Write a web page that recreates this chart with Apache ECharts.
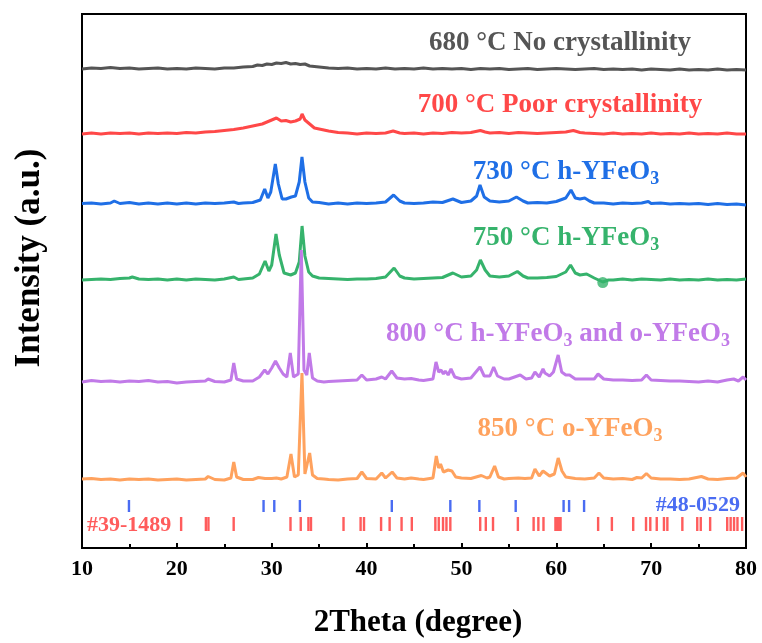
<!DOCTYPE html>
<html>
<head>
<meta charset="utf-8">
<script src="https://cdn.jsdelivr.net/npm/echarts@6/dist/echarts.min.js"></script>
<style>
html,body{margin:0;padding:0;background:#fff;}
#chart{width:762px;height:643px;}
</style>
</head>
<body>
<div id="chart"></div>
<script>
// ---- data: [2Theta, intensity above own baseline] (a.u.) ----
const trace680 = [[10,0],[11,1],[12,0.5],[13,1.5],[14,0.5],[15,1],[16,0],[17,0.5],[18,1],[19,0],[20,0.5],[21,0],[22,1],[23,0.5],[24,0],[25,1],[26,1],[27,2],[28,2.5],[28.5,4],[29,3.5],[29.5,5],[30,4.5],[30.5,6],[31,5.5],[31.5,6.5],[32,5],[32.5,5.5],[33,4.5],[33.5,5],[34,3],[35,2],[36,1],[37,0.5],[38,1],[39,0],[40,0.5],[41,0],[42,1],[43,0],[44,0.5],[45,0],[46,1],[47,0],[48,0.5],[49,0],[50,0.5],[51,-0.5],[52,0.5],[53,0],[54,0.5],[55,-0.5],[56,0],[57,0.5],[58,-0.5],[59,0],[60,0.5],[61,0],[62,-0.5],[63,0],[64,0.5],[65,-0.5],[66,0],[67,-0.5],[68,0],[69,-1],[70,0],[71,-0.5],[72,-1],[73,0],[74,-1],[75,-0.5],[76,-1],[77,0],[78,-1],[79,-0.5],[80,-1]];
const trace700 = [[10,0],[11,1],[12,0],[13,1],[14,0.5],[15,1],[16,0],[17,1],[18,0.5],[19,1],[20,0.5],[21,1.5],[22,1],[23,2],[24,2.5],[25,3.5],[26,4.5],[27,6],[28,8],[29,10],[29.5,12],[30,14],[30.5,16],[31,13],[31.5,13.5],[32,12],[32.5,13],[33,15],[33.2,20],[33.5,14],[34,10],[34.5,6],[35,5],[36,3],[37,1.5],[38,1],[39,0],[40,1],[41,0.5],[42,1],[42.8,3],[43.5,1],[44,0.5],[45,1],[46,0],[47,1],[48,0.5],[49,1.5],[50,1],[51,1.5],[52,3.5],[52.5,2],[53,1],[54,1.5],[55,0.5],[56,1.5],[57,1],[58,0.5],[59,1],[60,1.5],[61,2],[61.8,3.5],[62.5,1.5],[63,1],[64,0.5],[65,0],[66,1],[67,0],[68,0.5],[69,0],[70,1],[71,0],[72,0.5],[73,0],[74,1],[75,0],[76,0.5],[77,0],[78,1],[79,0],[80,0]];
const trace730 = [[10,0.5],[11,1],[12,0],[13,1],[13.4,3],[14,0.5],[15,1.5],[16,0],[17,1],[18,0],[19,1],[20,0],[21,1],[22,0],[23,1],[24,0.5],[25,1],[26,2],[26.5,0.5],[27,1],[28,1.5],[28.8,4],[29.26,15],[29.6,6],[29.9,12],[30.38,40],[30.7,20],[31.1,5],[31.5,5],[32.07,7],[32.5,8],[32.9,22],[33.19,47],[33.5,22],[33.9,6],[34.3,2],[35,1.5],[36,0],[37,1],[38,0],[39,1],[40,0.5],[41,1],[42,2],[42.85,9],[43.5,3],[44,1],[45,0.5],[46,1],[47,2],[48,1.5],[49.1,5],[50,1.5],[51,3],[51.6,8],[51.96,19],[52.4,7],[53,3],[54,2],[55,3],[55.8,7],[56.5,3],[57,1],[58,1.5],[59,1],[60,2.5],[61,6],[61.55,14],[62,6],[62.5,5],[63,6],[63.5,3],[64,1],[65,1],[66,0],[67,1],[68,0.5],[69,1],[69.7,2.5],[70,0.5],[71,1],[72,0],[73,0.5],[74,0],[75,0.5],[76,-0.5],[77,0.5],[78,-0.5],[79,0],[80,-1]];
const trace750 = [[10,0],[11,0.5],[12,1],[13,0.5],[14,1.5],[15,2],[15.3,3],[16,1],[17,0.5],[18,1],[19,0],[20,1],[21,0],[22,1],[23,0.5],[24,0],[25,1],[26,3],[26.5,0.5],[27,1],[28,2],[28.7,6],[29.3,19],[29.7,9],[30,15],[30.45,46],[30.8,25],[31.3,7],[32,5],[32.5,7],[32.9,18],[33.2,54],[33.5,24],[33.9,8],[34.3,4],[35,2],[36,1.5],[37,1],[38,0.5],[39,1],[40,1],[41,1.5],[42,3],[42.9,12],[43.5,4],[44,2],[45,1],[46,1.5],[47,2],[48,2.5],[49.1,7],[50,3],[51,4],[51.6,10],[52,20],[52.5,10],[53,4],[54,3],[55,4],[55.9,8.5],[56.5,4],[57,2],[58,2],[59,2.5],[60,3.5],[61,8],[61.5,15],[62,7],[62.5,5],[63.2,6],[64,2],[64.9,-2],[65.5,0],[66,0],[67,1],[68,0],[69,1],[70,0.5],[71,0],[72,1],[73,0],[74,0.5],[75,0],[76,1],[77,0],[78,0.5],[79,0],[80,1]];
const trace800 = [[10,0],[11,1.5],[12,0.5],[13,1],[14,0],[15,1],[16,0.5],[17,1.5],[18,0],[19,0.5],[20,-1],[21,0],[22,0.5],[23,1],[23.3,3],[24,0.5],[25,0],[25.7,2],[26,19],[26.3,3],[27,1],[28,1],[28.7,5],[29.26,12],[29.6,8],[30,14],[30.4,21],[30.8,14],[31.2,8],[31.6,5],[31.96,29],[32.3,5],[32.8,8],[33.12,132],[33.4,12],[33.7,7],[33.96,29],[34.3,4],[34.8,1],[35.5,0],[36,0.5],[37,1],[38,1.5],[39,2],[39.5,7],[40,2],[41,3],[41.6,5],[42,3],[42.65,11],[43.2,4],[44,3],[44.7,3.5],[45.5,2],[46,1.5],[47,3],[47.32,20],[47.6,10],[47.85,12],[48.1,8],[48.3,11],[48.6,7],[48.9,13],[49.3,5],[50,3],[51,4],[51.96,15],[52.4,6],[53,6],[53.4,15],[53.8,6],[54.5,3],[55,3],[56.2,7],[56.8,3],[57.4,4],[57.75,10],[58.2,5],[58.6,13],[58.8,9],[59.3,6],[59.7,10],[60.2,27],[60.57,10],[61,7],[61.4,7],[62,3],[63,3],[64,3],[64.4,8],[65,3],[66,2],[67,2],[68,1.5],[69,2],[69.5,7],[70,2],[71,1.5],[72,1],[73,1],[74,0.5],[75,0],[76,1],[77,0],[78,2],[78.7,3],[79.2,1],[79.7,5],[80,2]];
const trace850 = [[10,1],[11,1.5],[12,0.5],[13,1],[14,0],[15,1],[16,0.5],[17,1],[18,0],[19,0.5],[20,1],[21,0],[22,0.5],[23,1],[23.3,3.5],[24,0.5],[25,0],[25.7,2],[26,18],[26.3,3],[27,0.5],[28,0.5],[28.6,2.5],[29.3,1.5],[30,1.5],[30.5,2],[31,1],[31.6,3],[32.03,26],[32.4,3],[32.8,5],[33.19,107],[33.5,6],[33.7,7],[34,27],[34.3,5],[34.8,1.5],[35.5,1],[36,0.5],[37,0],[38,1],[39,1.5],[39.5,8],[40,1.5],[41,1],[41.6,7],[42,2],[42.7,8],[43.2,2],[44,1],[44.7,2],[45.5,1],[46,0.5],[47,2],[47.35,24],[47.6,12],[47.8,16],[48.1,8],[48.6,10],[49,9],[49.4,3],[50,2],[51,1.5],[52.1,4.5],[52.7,2],[53,3],[53.5,14],[53.9,3],[54.5,1],[55,1.5],[56,2],[56.7,1.5],[57.4,2],[57.75,11],[58.2,4],[58.6,9],[58.8,10],[59.3,4],[59.8,6],[60.2,22],[60.6,9],[61,3],[62,1.5],[63,1],[64,2],[64.5,7],[65,2],[66,1],[67,1.5],[68,0.5],[68.5,2.5],[69,2],[69.5,6.5],[70,2],[71,1],[72,1],[73,0.5],[74,1],[75.3,3.5],[76,1],[77,0.5],[78,1.5],[79,2],[79.7,7],[80,3]];
const traces = [trace680, trace700, trace730, trace750, trace800, trace850];
const stackOffsets = [479, 414, 344, 268, 166, 68];
const sampleNames = ['680 °C', '700 °C', '730 °C', '750 °C', '800 °C', '850 °C'];
const markedPoint750 = [[64.9, -2.5]];
// standard card reflections (2Theta)
const card48_0529 = [14.95, 29.14, 30.27, 32.97, 42.66, 48.83, 51.89, 55.72, 60.77, 61.35, 62.93];
const card39_1489 = [20.45, 23.06, 23.33, 25.99, 31.98, 33.06, 33.87, 34.14, 37.57, 39.37, 39.73, 41.53, 42.43, 43.69, 44.77, 47.25, 47.61, 48.06, 48.42, 48.83, 51.98, 52.57, 53.33, 55.95, 57.61, 58.11, 58.65, 59.91, 60.09, 60.27, 60.45, 64.41, 65.86, 68.11, 69.46, 69.91, 70.59, 71.35, 71.71, 73.29, 74.86, 75.23, 76.22, 78.02, 78.38, 78.74, 79.10, 79.59];
const xTicks = [10, 20, 30, 40, 50, 60, 70, 80];

// ---- styling ----
const colors = ['#555555', '#ff4848', '#1f6fe6', '#36b36c', '#c17ae8', '#ffa25e'];
const FONT = '"Liberation Serif", "Times New Roman", serif';
const chart = echarts.init(document.getElementById('chart'), null, {renderer: 'canvas'});

const series = traces.map((t, i) => ({
  type: 'line', name: sampleNames[i], showSymbol: false, symbol: 'none',
  data: t.map(p => [p[0], p[1] + stackOffsets[i]]),
  lineStyle: {color: colors[i], width: 3}, itemStyle: {color: colors[i]},
  z: 3 + i, animation: false
}));
series.push({
  type: 'scatter', data: markedPoint750.map(p => [p[0], p[1] + stackOffsets[3]]),
  symbolSize: 11, itemStyle: {color: colors[3]}, z: 10, animation: false
});
function refSeries(pos, lo, hi, color) {
  return {
    type: 'custom', animation: false, data: pos.map(x => [x]),
    renderItem: function (params, api) {
      const a = api.coord([api.value(0), lo]);
      const b = api.coord([api.value(0), hi]);
      return {type: 'line', shape: {x1: a[0], y1: a[1], x2: b[0], y2: b[1]},
        style: {stroke: color, lineWidth: 2.4}};
    }
  };
}
series.push(refSeries(card48_0529, 36, 48, '#4a6cf2'));
series.push(refSeries(card39_1489, 17, 31, '#ff5c5c'));

function richStyle(color) {
  return {m: {fontFamily: FONT, fontWeight: 'bold', fontSize: 27, fill: color, lineHeight: 32},
          s: {fontFamily: FONT, fontWeight: 'bold', fontSize: 18, fill: color, lineHeight: 32, verticalAlign: 'bottom', padding: [16, 0, 0, 0]}};
}
function label(x, y, text, color) {
  return {type: 'text', x: x, y: y, style: {text: text, align: 'center', verticalAlign: 'middle', rich: richStyle(color)}};
}
const graphics = [
  label(560, 43, '{m|680 °C No crystallinity}', colors[0]),
  label(560, 105, '{m|700 °C Poor crystallinity}', colors[1]),
  label(566, 172, '{m|730 °C h-YFeO}{s|3}', colors[2]),
  label(566, 238, '{m|750 °C h-YFeO}{s|3}', colors[3]),
  label(558, 334, '{m|800 °C h-YFeO}{s|3}{m| and o-YFeO}{s|3}', colors[4]),
  label(570, 429, '{m|850 °C o-YFeO}{s|3}', colors[5]),
  {type: 'text', x: 740, y: 505, style: {text: '#48-0529', align: 'right', verticalAlign: 'middle', font: 'bold 22px ' + FONT, fill: '#4a6cf2'}},
  {type: 'text', x: 87, y: 525, style: {text: '#39-1489', align: 'left', verticalAlign: 'middle', font: 'bold 22px ' + FONT, fill: '#ff5c5c'}},
  {type: 'text', x: 30, y: 258, rotation: Math.PI / 2, style: {text: 'Intensity (a.u.)', align: 'center', verticalAlign: 'middle', font: 'bold 35px ' + FONT, fill: '#000'}},
  {type: 'text', x: 418, y: 623, style: {text: '2Theta (degree)', align: 'center', verticalAlign: 'middle', font: 'bold 31px ' + FONT, fill: '#000'}}
];

chart.setOption({
  animation: false,
  grid: {left: 82, right: 16, top: 14, bottom: 95, show: true, borderColor: '#000', borderWidth: 2},
  xAxis: {type: 'value', min: 10, max: 80, interval: 10, splitLine: {show: false},
    axisLine: {lineStyle: {color: '#000', width: 2}},
    axisTick: {inside: true, length: 5, lineStyle: {color: '#000', width: 2}},
    minorTick: {show: true, splitNumber: 2, length: 4, lineStyle: {color: '#000', width: 2}},
    axisLabel: {fontFamily: FONT, fontWeight: 'bold', fontSize: 22, color: '#000', margin: 10,
      formatter: v => xTicks.indexOf(v) >= 0 ? String(v) : ''}},
  yAxis: {type: 'value', min: 0, max: 534, show: true, splitLine: {show: false},
    axisLine: {show: true, lineStyle: {color: '#000', width: 2}}, axisTick: {show: false}, axisLabel: {show: false}},
  graphic: graphics,
  series: series
});
</script>
</body>
</html>
